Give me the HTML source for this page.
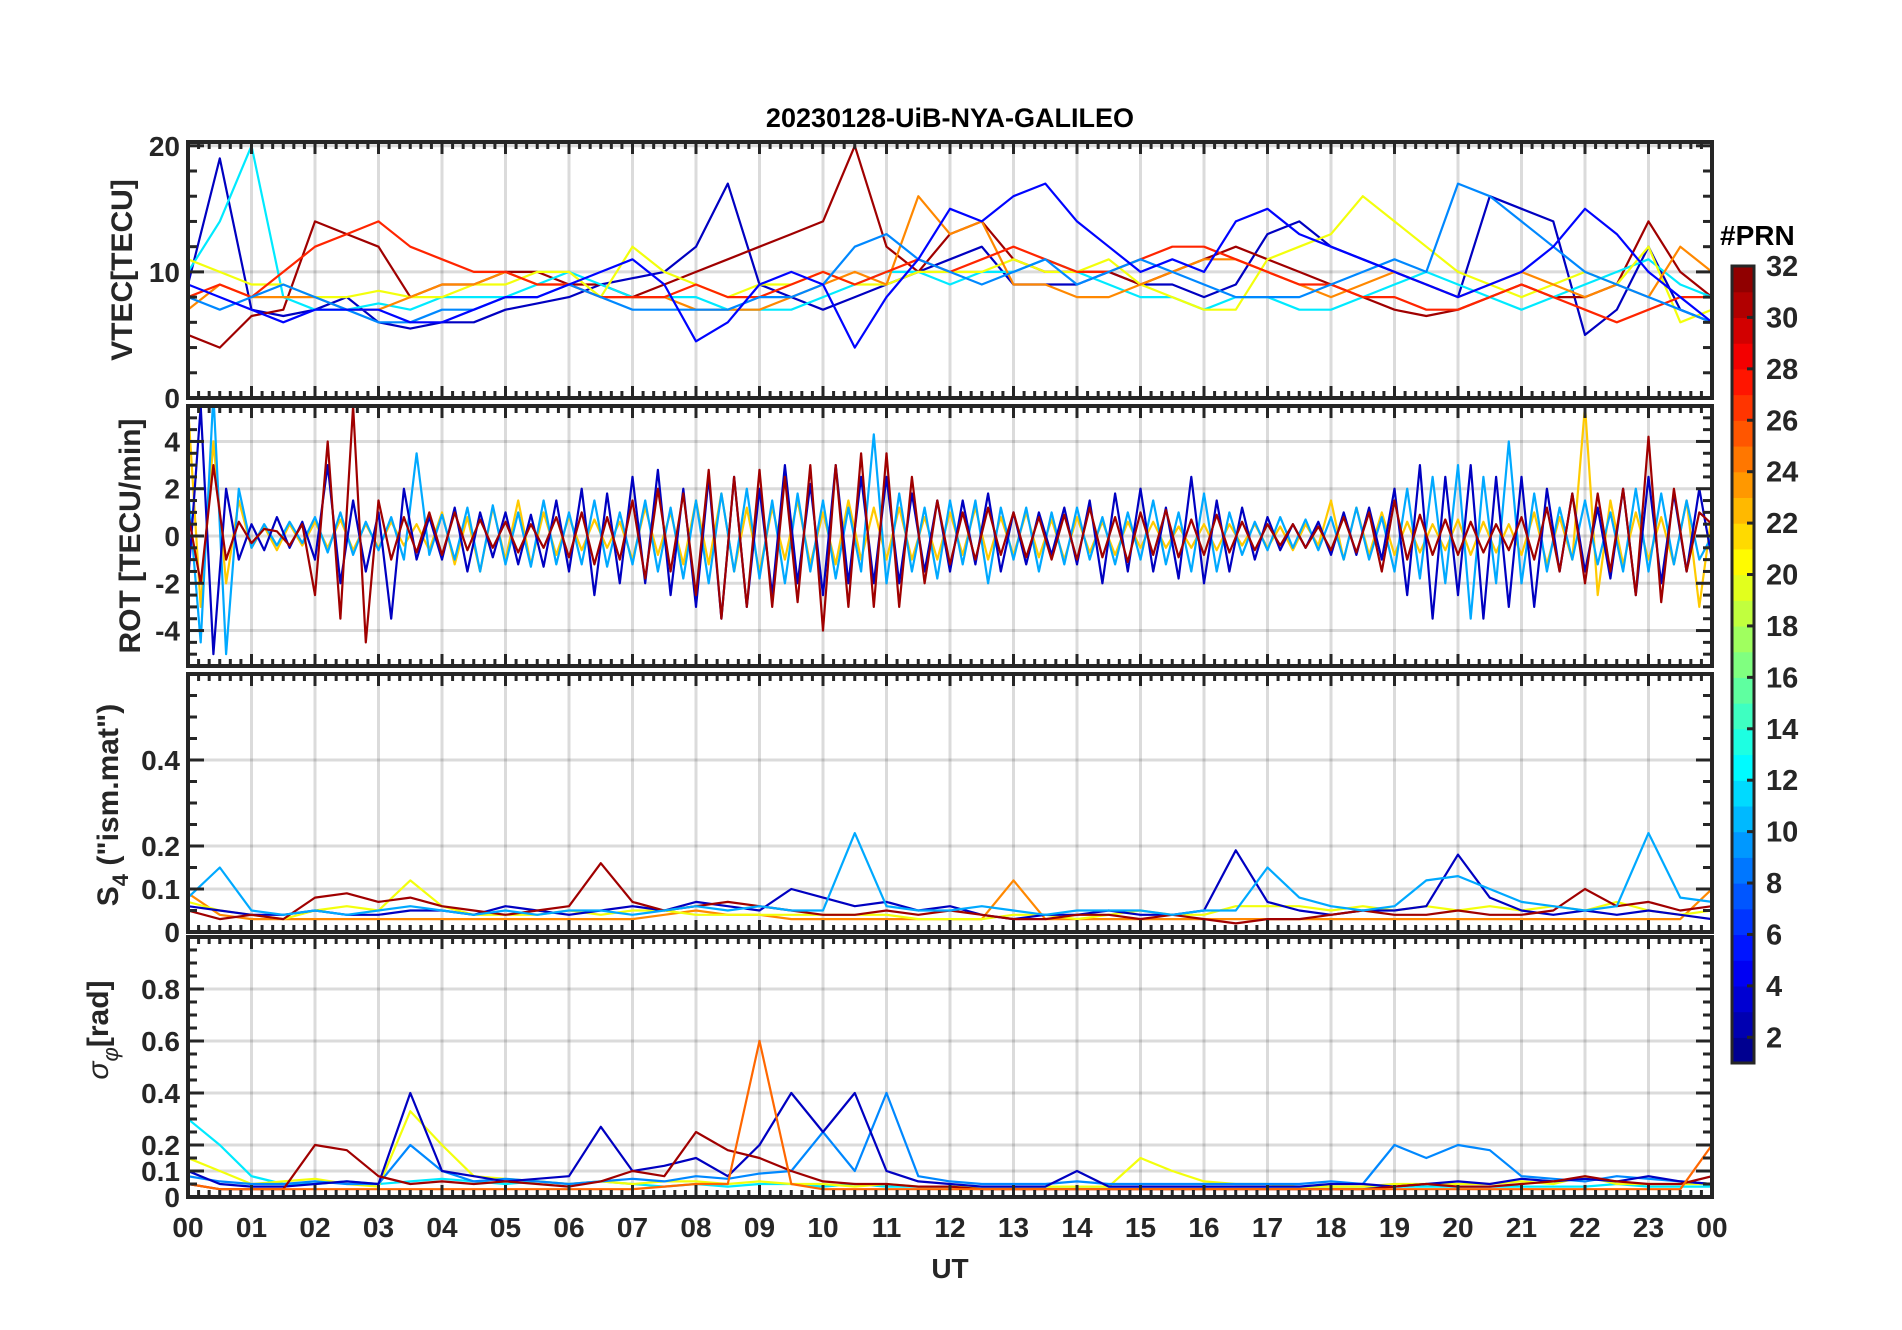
<!DOCTYPE html>
<html><head><meta charset="utf-8">
<style>
html,body{margin:0;padding:0;background:#fff;}
svg{display:block;font-family:"Liberation Sans",Arial,sans-serif;font-weight:bold;}
</style></head>
<body>
<svg id="chart" width="1902" height="1330" viewBox="0 0 1902 1330" xmlns="http://www.w3.org/2000/svg">
<rect width="1902" height="1330" fill="#fff"/>
<text x="950" y="127" font-size="27" text-anchor="middle" fill="#000">20230128-UiB-NYA-GALILEO</text>
<g id="layer"></g>
</svg>
<script>
// ---- data ----
const hourLabels=["00","01","02","03","04","05","06","07","08","09","10","11","12","13","14","15","16","17","18","19","20","21","22","23","00"];
const prnTicks=[2,4,6,8,10,12,14,16,18,20,22,24,26,28,30,32];
const vtecTicks=[0,10,20];
const rotTicks=[-4,-2,0,2,4];
const s4Ticks=[0,0.1,0.2,0.4];
const sigTicks=[0,0.1,0.2,0.4,0.6,0.8];
const vtecPrn=[3,31,12,20,24,27,9,5];
const vtecStep=0.5;
const vtec3=[9,19,7,6.5,7,8,6,5.5,6,6,7,7.5,8,9,9.5,10,12,17,9,8,7,8,9,10,11,12,9,9,9,10,9,9,8,9,13,14,12,11,10,9,8,16,15,14,5,7,12,7,6];
const vtec31=[5,4,6.5,7,14,13,12,8,9,9,10,10,9,9,8,9,10,11,12,13,14,20,12,10,13,14,11,10,10,10,9,10,11,12,11,10,9,8,7,6.5,7,8,9,8,8,9,14,10,8];
const vtec12=[10,14,20,8,7,7,7.5,7,8,8,8,9,10,9,8,8,8,7,7,7,8,9,10,10,9,10,10,11,10,9,8,8,7,8,8,7,7,8,9,10,9,8,7,8,9,10,11,9,8];
const vtec20=[11,10,9,9,8,8,8.5,8,8,9,9,10,10,8,12,10,9,8,9,9,10,9,9,10,10,10,11,10,10,11,9,8,7,7,11,12,13,16,14,12,10,9,8,9,10,9,12,6,7];
const vtec24=[7,9,8,8,8,7,7,8,9,9,10,9,9,8,8,8,7,7,7,8,9,10,9,16,13,14,9,9,8,8,9,10,11,11,10,9,8,9,10,9,8,9,10,9,8,9,8,12,10];
const vtec27=[8,9,8,10,12,13,14,12,11,10,10,9,9,8,8,8,9,8,8,9,10,9,10,11,10,11,12,11,10,10,11,12,12,11,10,9,9,8,8,7,7,8,9,8,7,6,7,8,8];
const vtec9=[8,7,8,9,8,7,6,6,7,7,8,8,9,8,7,7,7,7,8,8,9,12,13,11,10,9,10,11,9,10,11,10,9,8,8,8,9,10,11,10,17,16,14,12,10,9,8,7,6];
const vtec5=[9,8,7,6,7,7,7,6,6,7,8,8,9,10,11,9,4.5,6,9,10,9,4,8,11,15,14,16,17,14,12,10,11,10,14,15,13,12,11,10,9,8,9,10,12,15,13,10,8,6];
const rotPrn=[22,10,3,31];
const rotStep=0.2;
const rot31=[1,-2,3,-1,0.6,-0.3,0.3,0.2,-0.4,0.5,-2.5,4,-3.5,5.5,-4.5,1.5,-1,0.8,-0.7,1,-0.8,1,-0.6,0.7,-0.5,0.6,-0.7,0.5,-0.5,0.8,-0.9,1,-1.2,0.8,-1,1.5,-1.8,2,-1.5,1.8,-2.5,2.8,-3.5,2.5,-3,2.8,-3,2.5,-2.8,3,-4,3,-3,3.5,-3,3.5,-3,2.5,-2,1.5,-1.2,1,-1,1.2,-0.8,1,-0.9,0.8,-1,0.9,-1,1.2,-0.9,0.8,-1.1,1,-0.8,1.1,-0.9,0.7,-0.8,0.9,-0.7,0.6,-0.6,0.5,-0.4,0.5,-0.5,0.4,-0.6,0.8,-0.7,1,-1.5,1.5,-1,0.9,-0.8,0.7,-0.8,0.6,-0.7,0.5,-0.6,0.8,-1,1.2,-1.5,1.8,-2,1.8,-1.5,2,-2.5,4.2,-2.8,2,-1.5,1,0.5];
const rot3=[-2,5.5,-5,2,-1,0.5,-0.6,0.8,-0.5,0.6,-1,3,-2,1.5,-1.5,1,-3.5,2,-1,0.8,-1,1.2,-1.5,1,-0.9,1,-1.2,0.9,-1.3,1.5,-1.5,2,-2.5,1.8,-2,2.5,-2,2.8,-2.5,2,-3,2.5,-3.5,2.5,-3,2,-2.5,3,-2,2.2,-2.5,3,-2,2.5,-2,2.5,-2,1.8,-1.5,1.5,-1.5,1.5,-1.2,1.8,-1.5,1,-1.2,1,-0.8,1.2,-1.2,1.5,-2,1.8,-1.5,2,-1.5,1.2,-1.8,2.5,-2,1.5,-1.5,1.2,-1,0.8,-0.6,0.5,-0.5,0.6,-0.8,1,-0.8,1.2,-1,2,-2.5,3,-3.5,2.5,-2.5,3,-3.5,2.5,-3,2.5,-3,2,-1.5,1.8,-1.5,1.2,-1.8,2,-2.5,2.5,-2,1.8,-1.5,2,-1];
const rot10=[2,-4.5,6,-5,2,-0.5,0.5,-0.4,0.6,-0.3,0.8,-0.7,1,-0.8,0.6,-0.6,0.8,-1,3.5,-0.8,0.9,-1,1.2,-1.5,1.3,-1.2,1,-1.3,1.5,-1.2,1,-1.2,1.5,-1.3,1,-1.2,1.5,-1.5,1.2,-1.8,1.5,-2,1.8,-1.5,2,-1.8,1.5,-2,1.8,-1.5,1.5,-1.8,1.2,-1.5,4.3,-2,1.8,-1.5,1.2,-1.8,1.5,-1.2,1.5,-2,1.2,-1,1.2,-1.5,1,-1.2,1.2,-1,0.8,-1.2,1,-1,1.5,-1.2,1,-1.5,1.8,-1.5,1,-0.8,0.6,-0.6,0.8,-0.5,0.7,-0.6,0.8,-1,1.2,-1,0.8,-1.5,2,-1.8,2.5,-2,3,-3.5,2.5,-2,4,-2,1.8,-1.5,1.2,-1,1.5,-1.2,1,-1.5,2,-1.5,1.8,-1.2,1.5,-1,0];
const rot22=[5.5,-3,4,-2,1.5,-0.5,0.4,-0.6,0.5,-0.4,0.6,-0.5,0.7,-0.6,0.5,-0.5,0.6,-0.4,0.5,-0.6,1,-1.2,0.8,-1.5,1.2,-1,1.5,-1.2,1,-0.8,0.8,-0.6,0.7,-0.5,0.6,-1,1.2,-0.8,1,-1.2,1.5,-1.2,1.8,-1.5,1.2,-1.5,1.2,-1,1.5,-1.2,1,-1.2,1.5,-1,1.2,-1,1.2,-1,0.8,-1,1,-0.8,1.2,-1,0.8,-0.8,1,-0.9,0.7,-1,0.8,-0.7,0.6,-0.8,0.6,-0.5,0.6,-0.5,0.4,-0.5,0.5,-0.6,0.5,-0.4,0.5,-0.5,0.4,-0.6,0.5,-0.4,1.5,-1,1.2,-0.8,1,-0.8,0.6,-0.7,0.5,-0.6,0.7,-0.8,0.6,-0.7,0.5,-0.8,1,-1.2,0.8,-1,5.5,-2.5,1.5,-1.2,1,-1,0.8,-1.2,1.5,-3,1];
const s4Prn=[24,20,3,31,10];
const s4Step=0.5;
const s4_24=[0.09,0.04,0.03,0.03,0.03,0.03,0.03,0.03,0.03,0.03,0.03,0.03,0.03,0.03,0.03,0.04,0.05,0.04,0.04,0.03,0.03,0.03,0.03,0.03,0.03,0.03,0.12,0.03,0.03,0.03,0.03,0.03,0.03,0.03,0.03,0.03,0.03,0.03,0.03,0.03,0.03,0.03,0.03,0.03,0.03,0.03,0.03,0.03,0.1];
const s4_20=[0.07,0.05,0.04,0.03,0.05,0.06,0.05,0.12,0.06,0.04,0.04,0.04,0.05,0.04,0.05,0.05,0.04,0.04,0.04,0.04,0.04,0.04,0.04,0.03,0.03,0.03,0.04,0.04,0.03,0.04,0.05,0.04,0.04,0.06,0.06,0.06,0.05,0.06,0.05,0.06,0.05,0.06,0.05,0.06,0.05,0.07,0.05,0.04,0.05];
const s4_3=[0.06,0.05,0.04,0.04,0.05,0.04,0.04,0.05,0.05,0.04,0.06,0.05,0.04,0.05,0.06,0.05,0.07,0.06,0.05,0.1,0.08,0.06,0.07,0.05,0.06,0.04,0.03,0.04,0.04,0.05,0.04,0.04,0.05,0.19,0.07,0.05,0.04,0.05,0.05,0.06,0.18,0.08,0.05,0.04,0.05,0.04,0.05,0.04,0.03];
const s4_31=[0.05,0.03,0.04,0.03,0.08,0.09,0.07,0.08,0.06,0.05,0.04,0.05,0.06,0.16,0.07,0.05,0.06,0.07,0.06,0.05,0.04,0.04,0.05,0.04,0.05,0.04,0.03,0.03,0.04,0.04,0.03,0.04,0.03,0.02,0.03,0.03,0.04,0.05,0.04,0.04,0.05,0.04,0.04,0.05,0.1,0.06,0.07,0.05,0.06];
const s4_10=[0.08,0.15,0.05,0.04,0.05,0.04,0.05,0.06,0.05,0.04,0.05,0.04,0.05,0.05,0.04,0.05,0.06,0.05,0.06,0.05,0.05,0.23,0.06,0.05,0.05,0.06,0.05,0.04,0.05,0.05,0.05,0.04,0.05,0.05,0.15,0.08,0.06,0.05,0.06,0.12,0.13,0.10,0.07,0.06,0.05,0.06,0.23,0.08,0.07];
const sigPrn=[12,20,9,3,31,25];
const sigStep=0.5;
const sig12=[0.3,0.2,0.08,0.05,0.05,0.06,0.05,0.06,0.07,0.06,0.05,0.06,0.05,0.06,0.05,0.04,0.05,0.04,0.05,0.05,0.04,0.05,0.04,0.04,0.04,0.04,0.04,0.04,0.04,0.04,0.04,0.04,0.04,0.04,0.04,0.04,0.04,0.04,0.04,0.04,0.04,0.04,0.04,0.04,0.04,0.05,0.04,0.04,0.04];
const sig20=[0.15,0.1,0.05,0.06,0.07,0.05,0.04,0.33,0.2,0.08,0.07,0.06,0.05,0.06,0.05,0.06,0.06,0.05,0.06,0.05,0.05,0.04,0.05,0.04,0.04,0.04,0.04,0.04,0.04,0.04,0.15,0.1,0.06,0.05,0.05,0.04,0.04,0.04,0.05,0.05,0.05,0.05,0.06,0.05,0.08,0.05,0.05,0.05,0.05];
const sig9=[0.08,0.06,0.05,0.05,0.06,0.05,0.05,0.2,0.1,0.06,0.07,0.06,0.05,0.06,0.07,0.06,0.08,0.07,0.09,0.1,0.25,0.1,0.4,0.08,0.06,0.05,0.05,0.05,0.06,0.05,0.05,0.05,0.05,0.05,0.05,0.05,0.06,0.05,0.2,0.15,0.2,0.18,0.08,0.07,0.06,0.08,0.07,0.06,0.05];
const sig3=[0.1,0.05,0.04,0.04,0.05,0.06,0.05,0.4,0.1,0.08,0.06,0.07,0.08,0.27,0.1,0.12,0.15,0.08,0.2,0.4,0.25,0.4,0.1,0.06,0.05,0.04,0.04,0.04,0.1,0.04,0.04,0.04,0.04,0.04,0.04,0.04,0.05,0.05,0.04,0.05,0.06,0.05,0.07,0.06,0.07,0.06,0.08,0.06,0.05];
const sig31=[0.05,0.03,0.03,0.03,0.2,0.18,0.08,0.05,0.06,0.05,0.06,0.05,0.04,0.06,0.1,0.08,0.25,0.18,0.15,0.1,0.06,0.05,0.05,0.04,0.04,0.03,0.03,0.03,0.03,0.03,0.03,0.03,0.03,0.03,0.03,0.03,0.03,0.03,0.04,0.05,0.04,0.04,0.05,0.06,0.08,0.06,0.05,0.05,0.08];
const sig25=[0.05,0.03,0.03,0.03,0.03,0.03,0.03,0.03,0.03,0.03,0.03,0.03,0.03,0.03,0.03,0.04,0.05,0.05,0.6,0.05,0.03,0.03,0.03,0.03,0.03,0.03,0.03,0.03,0.03,0.03,0.03,0.03,0.03,0.03,0.03,0.03,0.03,0.03,0.03,0.03,0.03,0.03,0.03,0.03,0.03,0.03,0.03,0.03,0.2];

// ---- drawing ----
const NS="http://www.w3.org/2000/svg";
const layer=document.getElementById('layer');
const X0=188,X1=1712;
const AX="#262626";
function xS(h){return X0+(X1-X0)*h/24;}
function mk(tag,attrs,parent){const e=document.createElementNS(NS,tag);for(const k in attrs)e.setAttribute(k,attrs[k]);(parent||layer).appendChild(e);return e;}
function clamp(v){return Math.max(0,Math.min(1,v));}
function jet(p){const v=(p-1)/31;const r=clamp(1.5-Math.abs(4*v-3)),g=clamp(1.5-Math.abs(4*v-2)),b=clamp(1.5-Math.abs(4*v-1));return `rgb(${Math.round(r*255)},${Math.round(g*255)},${Math.round(b*255)})`;}

function panel(name,top,bot,ymin,ymax,ticks,minorStep,series,step,prns,fmt){
  const yS=v=>bot-(v-ymin)/(ymax-ymin)*(bot-top);
  const g=mk('g',{});
  
  
  const cid='clip-'+name;
  const cp=mk('clipPath',{id:cid},g);mk('rect',{x:X0,y:top,width:X1-X0,height:bot-top},cp);
  for(let h=1;h<24;h++){const l=mk('line',{x1:xS(h),x2:xS(h),y1:top,y2:bot,stroke:'rgba(0,0,0,0.14)','stroke-width':3},g);
    }
  ticks.forEach(t=>{const l=mk('line',{x1:X0,x2:X1,y1:yS(t),y2:yS(t),stroke:'rgba(0,0,0,0.14)','stroke-width':3},g);
    });
  const sg=mk('g',{'clip-path':`url(#${cid})`},g);
  series.forEach((vals,i)=>{
    const d=vals.map((v,k)=>(k?'L':'M')+xS(k*step).toFixed(1)+','+yS(v).toFixed(1)).join('');
    const p=mk('path',{d:d,fill:'none',stroke:jet(prns[i]),'stroke-width':2.2,'stroke-linejoin':'round'},sg);
    
    
  });
  const tg=mk('g',{stroke:AX,'stroke-width':3},g);
  for(let m=0;m<=144;m++){const x=xS(m/6);const L=(m%6===0)?12:7;
    mk('line',{x1:x,x2:x,y1:top,y2:top+L},tg);mk('line',{x1:x,x2:x,y1:bot,y2:bot-L},tg);}
  const n=Math.round((ymax-ymin)/minorStep);
  for(let k=0;k<=n;k++){const v=ymin+k*minorStep;if(v>ymax+1e-9)break;const y=yS(v);
    const major=ticks.some(t=>Math.abs(t-v)<1e-6);const L=major?16:9;
    mk('line',{x1:X0,x2:X0+L,y1:y,y2:y},tg);mk('line',{x1:X1,x2:X1-L,y1:y,y2:y},tg);}
  ticks.forEach(t=>{const tx=mk('text',{x:X0-8,y:yS(t)+10,'font-size':28,'text-anchor':'end',fill:AX},g);
    tx.textContent=fmt(t);});
  const fr=mk('rect',{x:X0,y:top,width:X1-X0,height:bot-top,fill:'none',stroke:AX,'stroke-width':4},g);
  
}
const f0=t=>String(t);
panel('vtec',142,398,0,20.3,vtecTicks,2,[vtec3,vtec31,vtec12,vtec20,vtec24,vtec27,vtec9,vtec5],vtecStep,vtecPrn,f0);
panel('rot',406,666,-5.5,5.5,rotTicks,0.5,[rot22,rot10,rot3,rot31],rotStep,rotPrn,f0);
panel('s4',674,932,0,0.6,s4Ticks,0.05,[s4_24,s4_20,s4_3,s4_31,s4_10],s4Step,s4Prn,t=>t===0?'0':String(t));
panel('sigma',937,1197,0,1,sigTicks,0.05,[sig12,sig20,sig9,sig3,sig31,sig25],sigStep,sigPrn,t=>t===0?'0':String(t));

hourLabels.forEach((lab,i)=>{const t=mk('text',{x:xS(i),y:1237,'font-size':28,'text-anchor':'middle',fill:AX});
  t.textContent=lab;});
const ut=mk('text',{x:950,y:1278,'font-size':28,'text-anchor':'middle',fill:AX});ut.textContent='UT';


function ylab(x,y,html,name){const t=mk('text',{x:x,y:y,'font-size':30,'text-anchor':'middle',fill:AX,transform:`rotate(-90 ${x} ${y})`});
  t.innerHTML=html;}
ylab(132,270,'VTEC[TECU]','vtec-y-axis-title');
ylab(140,536,'ROT [TECU/min]','rot-y-axis-title');
ylab(118,805,'S<tspan font-size="22" dy="10">4</tspan><tspan dy="-10"> ("ism.mat")</tspan>','s4-y-axis-title');
ylab(108,1030,'<tspan font-style="italic" font-weight="normal">σ</tspan><tspan font-size="22" dy="10" font-style="italic" font-weight="normal">φ</tspan><tspan dy="-10">[rad]</tspan>','sigma-y-axis-title');

const CB0=266,CB1=1063,CBX=1732,CBW=22;
const cbY=v=>CB1-(v-1)/31*(CB1-CB0);
const cg=mk('g',{});


for(let k=1;k<=31;k++){const r=mk('rect',{x:CBX,y:cbY(k+1),width:CBW,height:cbY(k)-cbY(k+1)+0.6,fill:jet(k+0.5)},cg);
  }
mk('rect',{x:CBX,y:CB0,width:CBW,height:CB1-CB0,fill:'none',stroke:AX,'stroke-width':3},cg);
prnTicks.forEach(p=>{const y=cbY(p);mk('line',{x1:CBX+CBW-7,x2:CBX+CBW,y1:y,y2:y,stroke:AX,'stroke-width':3},cg);
  const t=mk('text',{x:1766,y:y+10,'font-size':29,fill:AX},cg);t.textContent=p;
  });
const pl=mk('text',{x:1720,y:245,'font-size':28,fill:'#000'});pl.textContent='#PRN';

</script>
</body></html>
